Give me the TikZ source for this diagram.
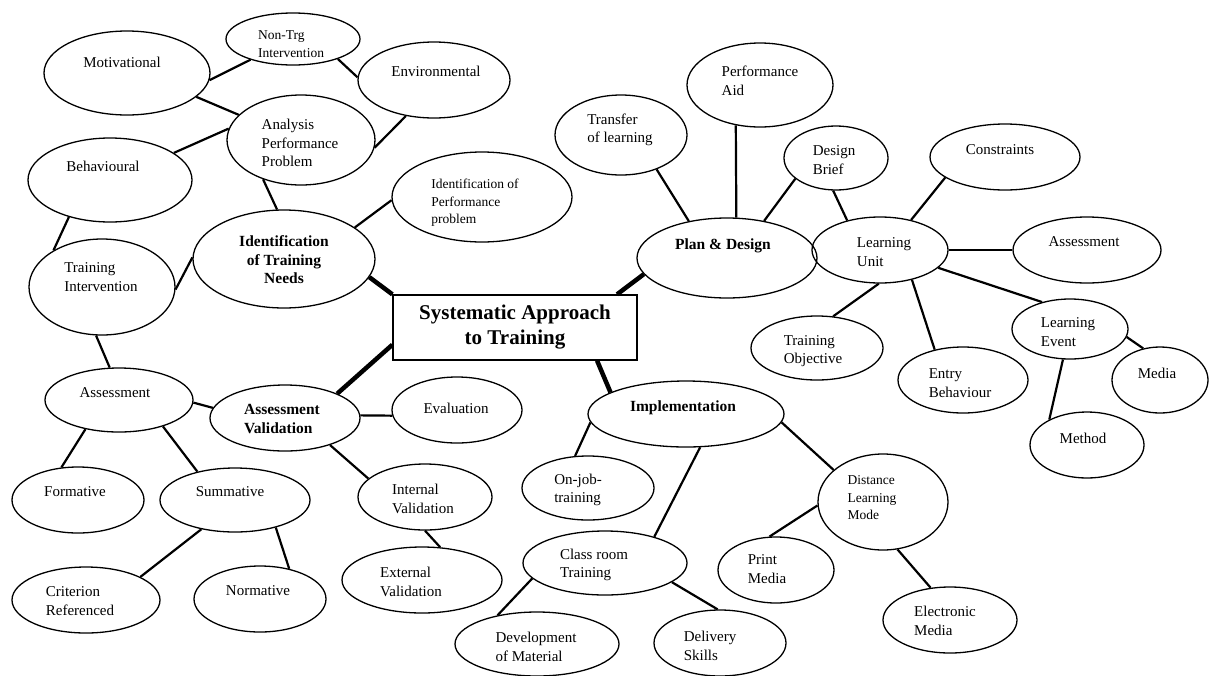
\documentclass[tikz,border=0pt]{standalone}
\usepackage{fontspec}
\setmainfont{Liberation Serif}
\usetikzlibrary{shapes.geometric}
\tikzset{
  bub/.style={ellipse,draw,line width=1.3pt,inner sep=0pt},
  txt/.style={inner sep=0pt,align=left,font=\fontsize{15}{18.5}\selectfont},
  stxt/.style={inner sep=0pt,align=left,font=\fontsize{13.5}{17.5}\selectfont},
  btxt/.style={inner sep=0pt,align=center,font=\fontsize{15.5}{18.5}\selectfont\bfseries},
  ttl/.style={draw,line width=1.3pt,minimum width=244pt,minimum height=65pt,inner sep=0pt,align=center,font=\fontsize{21}{25}\selectfont\bfseries},
  con/.style={line width=2.2pt},
  hub/.style={line width=4.5pt}
}
\newcommand\bub[5]{\node[bub,minimum width={2*#4},minimum height={2*#5}] (#1) at (#2,#3) {};}
\begin{document}
\begin{tikzpicture}[x=1pt,y=-1pt]
\useasboundingbox (0,0) rectangle (1215,675);
% ellipses
\bub{mot}{127}{73}{83}{42}
\bub{ntr}{293}{39}{67}{26}
\bub{env}{434}{80}{76}{38}
\bub{ana}{301}{140}{74}{45}
\bub{beh}{110}{180}{82}{42}
\bub{ipp}{482}{197}{90}{45}
\bub{itn}{284}{259}{91}{49}
\bub{tin}{102}{287}{73}{48}
\bub{asl}{119}{400}{74}{32}
\bub{av}{285}{418}{75}{33}
\bub{eva}{457}{410}{65}{33}
\bub{frm}{78}{500}{66}{33}
\bub{sum}{235}{500}{75}{32}
\bub{cri}{86}{600}{74}{33}
\bub{nor}{260}{599}{66}{33}
\bub{inv}{425}{497}{67}{33}
\bub{exv}{422}{580}{80}{33}
\bub{tol}{621}{135}{66}{40}
\bub{pa}{760}{85}{73}{42}
\bub{db}{836}{158}{52}{32}
\bub{pd}{727}{258}{90}{40}
\bub{con}{1005}{157}{75}{33}
\bub{lu}{880}{250}{68}{33}
\bub{asr}{1087}{250}{74}{33}
\bub{le}{1070}{329}{58}{30}
\bub{med}{1160}{380}{48}{33}
\bub{met}{1087}{445}{57}{33}
\bub{eb}{963}{380}{65}{33}
\bub{to}{817}{348}{66}{32}
\bub{imp}{686}{414}{98}{33}
\bub{ojt}{588}{488}{66}{32}
\bub{crt}{605}{563}{82}{32}
\bub{dev}{537}{644}{82}{32}
\bub{del}{720}{643}{66}{33}
\bub{dlm}{883}{502}{65}{48}
\bub{pm}{776}{570}{58}{33}
\bub{em}{950}{620}{67}{33}
% central box
\node[ttl] (sat) at (515,327.5) {Systematic Approach\\to Training};
% texts
\node[txt] (mot-t) at (122,62) {Motivational};
\node[stxt] (ntr-t) at (291,44) {Non-Trg\\Intervention};
\node[txt] (env-t) at (436,71) {Environmental};
\node[txt] (ana-t) at (300,143) {Analysis\\Performance\\Problem};
\node[txt] (beh-t) at (103,166) {Behavioural};
\node[stxt] (ipp-t) at (475,203) {Identification of\\Performance\\problem};
\node[btxt] (itn-t) at (284,260) {Identification\\of Training\\Needs};
\node[txt] (tin-t) at (101,277) {Training\\Intervention};
\node[txt] (asl-t) at (115,393) {Assessment};
\node[btxt,align=left] (av-t) at (282,419) {Assessment\\Validation};
\node[txt] (eva-t) at (456,408) {Evaluation};
\node[txt] (frm-t) at (75,492) {Formative};
\node[txt] (sum-t) at (230,492) {Summative};
\node[txt] (cri-t) at (80,601) {Criterion\\Referenced};
\node[txt] (nor-t) at (258,591) {Normative};
\node[txt] (inv-t) at (423,499) {Internal\\Validation};
\node[txt] (exv-t) at (411,582) {External\\Validation};
\node[txt] (tol-t) at (620,130) {Transfer\\of learning};
\node[txt] (pa-t) at (760,81) {Performance\\Aid};
\node[txt] (db-t) at (834,160) {Design\\Brief};
\node[btxt] (pd-t) at (723,246) {Plan \& Design};
\node[txt] (con-t) at (1000,150) {Constraints};
\node[txt] (lu-t) at (884,252) {Learning\\Unit};
\node[txt] (asr-t) at (1084,242) {Assessment};
\node[txt] (le-t) at (1068,332) {Learning\\Event};
\node[txt] (med-t) at (1157,373) {Media};
\node[txt] (met-t) at (1083,438) {Method};
\node[txt] (eb-t) at (960,383) {Entry\\Behaviour};
\node[txt] (to-t) at (813,351) {Training\\Objective};
\node[btxt] (imp-t) at (683,408) {Implementation};
\node[txt] (ojt-t) at (578,490) {On-job-\\training};
\node[txt] (crt-t) at (594,565) {Class room\\Training};
\node[txt] (dev-t) at (536,647) {Development\\of Material};
\node[txt] (del-t) at (710,646) {Delivery\\Skills};
\node[stxt] (dlm-t) at (872,498) {Distance\\Learning\\Mode};
\node[txt] (pm-t) at (767,569) {Print\\Media};
\node[txt] (em-t) at (945,621) {Electronic\\Media};
% connectors
\draw[con] (mot.-5) -- (ntr.206);
\draw[con] (mot.-19) -- (ana.158);
\draw[con] (ntr.-24) -- (env.178);
\draw[con] (env.232) -- (ana.-6);
\draw[con] (beh.23) -- (ana.171);
\draw[con] (ana.226) -- (itn.98);
\draw[con] (itn.24) -- (ipp.182);
\draw[con] (beh.222) -- (tin.143);
\draw[con] (tin.-2) -- (itn.179);
\draw[hub] (itn.-12) -- (sat.north west);
\draw[con] (tin.263) -- (asl.106);
\draw[con] (asl.-2) -- (av.172);
\draw[hub] (sat.188) -- (av.25);
\draw[con] (av.2) -- (eva.185);
\draw[con] (asl.221) -- (frm.117);
\draw[con] (asl.-31) -- (sum.143);
\draw[con] (sum.221) -- (cri.23);
\draw[con] (sum.-34) -- (nor.46);
\draw[con] (av.-31) -- (inv.162);
\draw[con] (inv.270) -- (exv.61);
\draw[hub] (sat.18) -- (pd.191);
\draw[con] (pd.136) -- (tol.-44);
\draw[con] (pd.77) -- (pa.239);
\draw[con] (pd.45) -- (db.207);
\draw[con] (db.265) -- (lu.138);
\draw[con] (lu.44) -- (con.199);
\draw[con] (lu.0) -- (asr.180);
\draw[con] (lu.-17) -- (le.136);
\draw[con] (lu.268) -- (to.63);
\draw[con] (lu.-43) -- (eb.133);
\draw[con] (le.-8) -- (med.118);
\draw[con] (le.257) -- (met.146);
\draw[hub] (sat.-22) -- (imp.164);
\draw[con] (imp.185) -- (ojt.112);
\draw[con] (imp.-67) -- (crt.28);
\draw[con] (imp.-5) -- (dlm.147);
\draw[con] (dlm.183) -- (pm.101);
\draw[con] (dlm.287) -- (em.121);
\draw[con] (crt.192) -- (dev.144);
\draw[con] (crt.-16) -- (del.94);
\end{tikzpicture}
\end{document}
